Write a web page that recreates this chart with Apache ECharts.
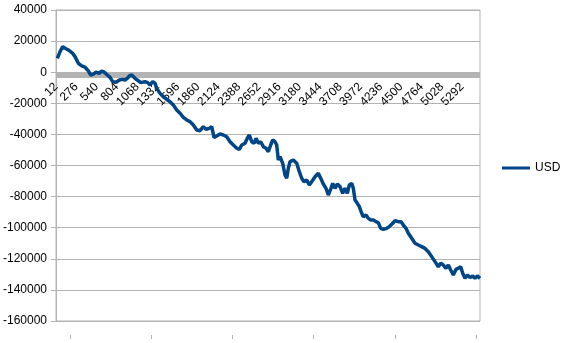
<!DOCTYPE html>
<html>
<head>
<meta charset="utf-8">
<script src="https://cdn.jsdelivr.net/npm/echarts@6/dist/echarts.min.js"></script>
<style>html,body{margin:0;padding:0;background:#fff}#c{width:566px;height:343px}</style>
</head>
<body>
<div id="c"></div>
<script>
const seriesName = 'USD';
const xValues = [29,64,99,129,172,194,229,259,302,346,389,432,463,497,532,575,606,640,679,714,749,792,835,879,909,939,965,996,1017,1052,1082,1113,1139,1169,1204,1234,1269,1299,1321,1364,1407,1451,1494,1537,1581,1624,1667,1711,1754,1797,1841,1884,1927,1962,2005,2036,2066,2101,2144,2187,2231,2274,2317,2361,2395,2426,2469,2499,2525,2556,2586,2612,2642,2673,2707,2742,2772,2803,2829,2859,2881,2902,2924,2959,2989,3011,3032,3054,3097,3141,3175,3206,3236,3271,3305,3336,3379,3422,3453,3487,3522,3552,3583,3609,3639,3669,3704,3739,3769,3799,3825,3856,3877,3899,3929,3955,3986,4007,4042,4072,4103,4137,4172,4202,4233,4267,4311,4345,4380,4419,4462,4497,4527,4562,4592,4636,4679,4722,4766,4809,4852,4896,4939,4982,5013,5047,5082,5112,5143,5177,5212,5242,5273,5299,5329,5359,5394,5429,5459,5489,5524];
const usdValues = [8900,13200,16400,15400,14300,14700,12100,10000,5700,4000,3200,800,-1800,-1200,100,-700,800,0,-1800,-3300,-6100,-6500,-5000,-4600,-5000,-3900,-2400,-1800,-2900,-4600,-5500,-6700,-7100,-6100,-6700,-8200,-6100,-7100,-10400,-13600,-15800,-17400,-19000,-21100,-24300,-26400,-29000,-30700,-31800,-34000,-37200,-37600,-35000,-36700,-36100,-35000,-41900,-41000,-39700,-40400,-41500,-44700,-46800,-48900,-49600,-46800,-45700,-42500,-40400,-44700,-45700,-42500,-45700,-44700,-47900,-48900,-51100,-46800,-43600,-44700,-46800,-56500,-54300,-58600,-66100,-68200,-61800,-57500,-56500,-58600,-64000,-68200,-70400,-69300,-72500,-70400,-67200,-65000,-68200,-71900,-74700,-79000,-75200,-71500,-74700,-72000,-73600,-77900,-74700,-77900,-72500,-71500,-74700,-82200,-84300,-86500,-90700,-92900,-91800,-94000,-95000,-95000,-96100,-96800,-100400,-101000,-100400,-99300,-97600,-95500,-96100,-96100,-98300,-100400,-103600,-106800,-110000,-111100,-112200,-113300,-115400,-118600,-121800,-125100,-122900,-124000,-126100,-124000,-127200,-130400,-126800,-126100,-125100,-129300,-132600,-130400,-132100,-131000,-132600,-131000,-132600];
const xMin = 12, xMax = 5524, xStep = 264;
const bottomTicks = [194,1250,2306,3362,4418,5474];
const yMin = -160000, yMax = 40000, yStep = 20000;

const gray = '#b3b3b3';
const font = '"Liberation Sans", Arial, sans-serif';
const plain = v => String(v);
const chart = echarts.init(document.getElementById('c'), null, {renderer: 'canvas'});
chart.setOption({
  animation: false,
  textStyle: {fontFamily: font},
  grid: {left: 56, right: 86, top: 10, bottom: 22, show: true, borderColor: gray, borderWidth: 1, backgroundColor: 'transparent'},
  legend: {
    data: [seriesName], left: 497, top: 157, icon: 'rect', itemWidth: 28, itemHeight: 3, itemGap: 5,
    textStyle: {fontSize: 12, color: '#000', fontFamily: font}
  },
  xAxis: [{
    type: 'value', min: xMin, max: xMax, interval: xStep, position: 'bottom', offset: -246,
    axisLine: {show: true, onZero: false, lineStyle: {color: gray, width: 6, cap: 'butt'}},
    axisTick: {show: false},
    splitLine: {show: false},
    axisLabel: {rotate: 45, margin: 10, fontSize: 12, color: '#000', showMaxLabel: false, showMinLabel: true,
      fontFamily: font, formatter: plain}
  }, {
    type: 'value', min: xMin, max: xMax, position: 'bottom', offset: 14,
    axisLine: {show: false, onZero: false},
    axisTick: {show: true, length: 4, customValues: bottomTicks, lineStyle: {color: gray}},
    axisLabel: {show: false},
    splitLine: {show: false}
  }],
  yAxis: {
    type: 'value', min: yMin, max: yMax, interval: yStep,
    axisLine: {show: true, lineStyle: {color: gray}},
    axisTick: {show: true, length: 5, lineStyle: {color: gray}},
    splitLine: {show: true, lineStyle: {color: gray, width: 1}},
    axisLabel: {fontSize: 12, color: '#000', margin: 9, fontFamily: font, formatter: plain}
  },
  series: [{
    name: seriesName, type: 'line', xAxisIndex: 0,
    data: xValues.map((x, i) => [x, usdValues[i]]),
    showSymbol: false, symbol: 'none',
    lineStyle: {color: '#004586', width: 3.5},
    itemStyle: {color: '#004586'}
  }]
});
</script>
</body>
</html>
